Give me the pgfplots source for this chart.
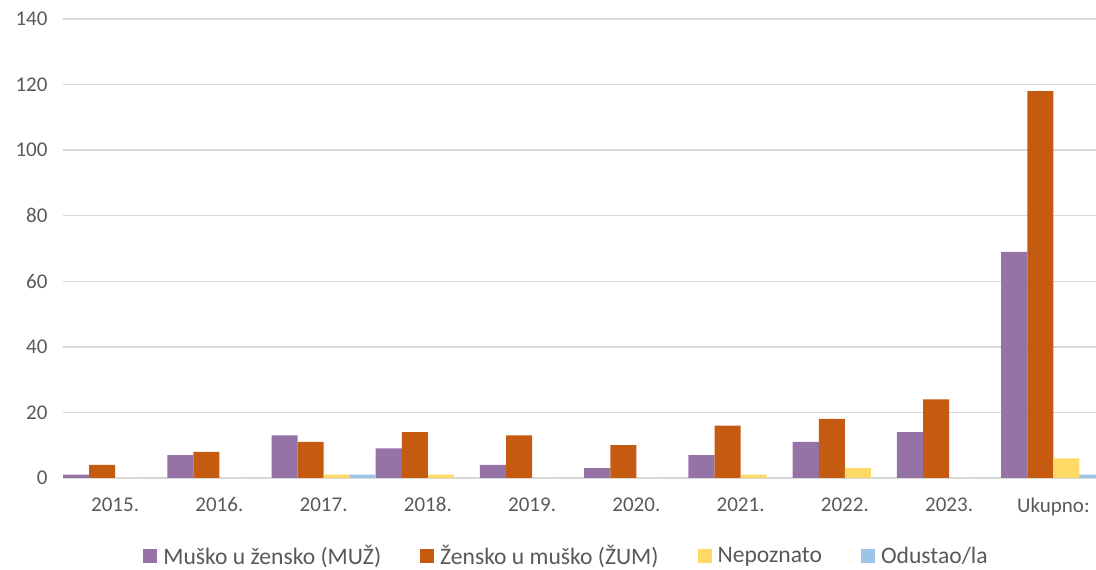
\documentclass[border=0pt]{standalone}
\usepackage{pgfplots}
\pgfplotsset{compat=1.18}
\usepackage{fontspec}
\setmainfont{Carlito}
\definecolor{cM}{HTML}{9673A6}
\definecolor{cZ}{HTML}{C55A11}
\definecolor{cN}{HTML}{FFD966}
\definecolor{cO}{HTML}{9DC3E6}
\definecolor{tickgray}{HTML}{595959}
\definecolor{gridgray}{HTML}{D9D9D9}
\begin{document}
\begin{tikzpicture}[x=1pt,y=1pt]
\useasboundingbox (-63,-92) rectangle (1033,478);
\begin{axis}[
  at={(0,0)}, anchor=south west,
  scale only axis, width=1042.5pt, height=459pt,
  ybar=0pt, bar width=26.06pt,
  xmin=-0.5, xmax=9.5, ymin=0, ymax=140,
  xtick={0,...,9},
  xticklabels={2015.,2016.,2017.,2018.,2019.,2020.,2021.,2022.,2023.,Ukupno:},
  ytick={0,20,...,140},
  ymajorgrids, grid style={gridgray, line width=1.3pt},
  axis line style={draw=none},
  major tick length=0pt,
  /pgf/number format/assume math mode=true,
  tick label style={font=\fontsize{21}{25}\selectfont, text=tickgray},
  yticklabel style={xshift=-12pt},
  xticklabel style={yshift=-16pt},
  legend columns=4,
  legend style={draw=none, at={(0.483,-0.170)}, anchor=center,
    font=\fontsize{23.6}{24}\selectfont, text=tickgray, inner sep=1pt,
    /tikz/every even column/.append style={column sep=37pt}},
  legend image code/.code={\fill[#1] (0pt,-7pt) rectangle (14pt,7pt); \path (18pt,0pt);},
]
\addplot[fill=cM, draw=none] coordinates {(0,1) (1,7) (2,13) (3,9) (4,4) (5,3) (6,7) (7,11) (8,14) (9,69)};
\addplot[fill=cZ, draw=none] coordinates {(0,4) (1,8) (2,11) (3,14) (4,13) (5,10) (6,16) (7,18) (8,24) (9,118)};
\addplot[fill=cN, draw=none] coordinates {(0,0) (1,0) (2,1) (3,1) (4,0) (5,0) (6,1) (7,3) (8,0) (9,6)};
\addplot[fill=cO, draw=none] coordinates {(0,0) (1,0) (2,1) (3,0) (4,0) (5,0) (6,0) (7,0) (8,0) (9,1)};
\legend{Muško u žensko (MUŽ), Žensko u muško (ŽUM), Nepoznato, Odustao/la}
\end{axis}
\end{tikzpicture}
\end{document}
